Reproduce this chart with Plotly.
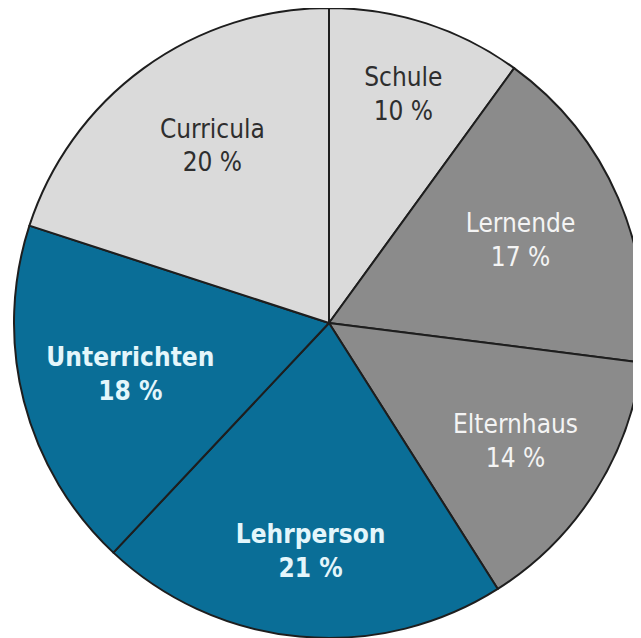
import plotly.graph_objects as go

labels = ["Schule", "Lernende", "Elternhaus", "Lehrperson", "Unterrichten", "Curricula"]
values = [10, 17, 14, 21, 18, 20]
colors = ["#dadada", "#8b8b8b", "#8b8b8b", "#0a6e97", "#0a6e97", "#dadada"]
text_colors = ["#2e2e2e", "#f4f4f4", "#f4f4f4", "#e4f6fb", "#e4f6fb", "#2e2e2e"]
bold = [False, False, False, True, True, False]
lead_lines = [0, 0, 0, 2, 0, 0]
trail_lines = [0, 0, 0, 0, 0, 1]

texts = []
for l, v, b, n, m in zip(labels, values, bold, lead_lines, trail_lines):
    t = ("<b>%s<br>%d %%</b>" if b else "%s<br>%d %%") % (l, v)
    texts.append("&nbsp;<br>" * n + t + "<br>&nbsp;" * m)

W, H = 642, 638
fig = go.Figure(go.Pie(
    labels=labels,
    values=values,
    text=texts,
    textinfo="text",
    textposition="inside",
    insidetextorientation="horizontal",
    sort=False,
    direction="clockwise",
    rotation=0,
    marker=dict(colors=colors, line=dict(color="#1e1e1e", width=2)),
    insidetextfont=dict(family="DejaVu Sans Condensed, Liberation Sans Narrow, sans-serif", size=26, color=text_colors),
    hoverinfo="skip",
    domain=dict(x=[0, 1], y=[8 / H, 1]),
    showlegend=False,
))
fig.update_layout(
    width=W, height=H, autosize=False,
    margin=dict(l=0, r=0, t=0, b=0),
    paper_bgcolor="white",
    plot_bgcolor="white",
)
fig.write_html("out.html")
